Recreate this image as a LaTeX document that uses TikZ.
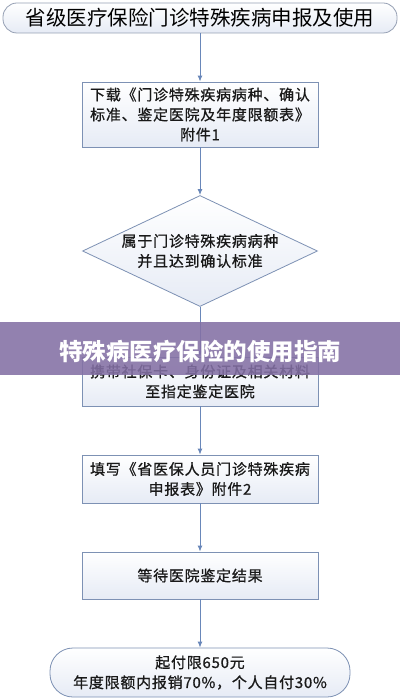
\documentclass[tikz,border=0pt]{standalone}
\usepackage{fontspec}
\setmainfont{Noto Sans CJK SC}
\newfontfamily\boxfont{Noto Sans CJK SC}[LetterSpace=5, FakeBold=0.8]
\usetikzlibrary{shapes.geometric,arrows.meta}
\definecolor{edge}{RGB}{125,145,180}
\definecolor{tedge}{RGB}{150,160,180}
\definecolor{flow}{RGB}{105,135,185}
\definecolor{fillb}{RGB}{230,235,245}
\definecolor{band}{RGB}{132,112,165}
\definecolor{ink}{RGB}{25,25,25}
\tikzset{
  stepbox/.style={draw=edge, line width=0.8pt, top color=white, bottom color=fillb,
    minimum width=236pt, align=center, inner sep=0pt, text=ink,
    font=\boxfont\fontsize{15}{20}\selectfont},
  term/.style={draw=tedge, line width=0.8pt, top color=white, bottom color=fillb,
    align=center, inner sep=0pt},
  flowline/.style={draw=flow, line width=1pt, -{Latex[length=6pt,width=5pt]}},
  txt/.style={align=center, inner sep=0pt, text=ink, font=\boxfont\fontsize{15}{20}\selectfont}
}
\begin{document}
\begin{tikzpicture}[x=1pt,y=-1pt]
\useasboundingbox (0,0) rectangle (400,700);
\fill[white] (0,0) rectangle (400,700);
\node[term, rounded corners=14pt, minimum width=394pt, minimum height=30pt,
  font=\fontsize{20.5}{24}\selectfont] (t) at (200,18) {省级医疗保险门诊特殊疾病申报及使用};
\node[stepbox, minimum height=65pt] (b1) at (200,114.5)
  {下载《门诊特殊疾病病种、确认\\标准、鉴定医院及年度限额表》\\附件1};
\node[diamond, draw=edge, line width=0.8pt, top color=white, bottom color=fillb,
  minimum width=235pt, minimum height=111pt, inner sep=0pt, aspect=2.1] (d) at (200,251) {};
\node[txt] (dt) at (d.center) {属于门诊特殊疾病病种\\并且达到确认标准};
\node[stepbox, minimum height=49pt] (b3) at (200,381.5)
  {携带社保卡、身份证及相关材料\\至指定鉴定医院};
\node[stepbox, minimum height=48pt] (b4) at (200,479)
  {填写《省医保人员门诊特殊疾病\\申报表》附件2};
\node[stepbox, minimum height=47pt] (b5) at (200,575.5) {等待医院鉴定结果};
\node[term, draw=edge, rounded corners=23pt, minimum width=300pt, minimum height=49pt,
  text=ink, font=\boxfont\fontsize{15}{20}\selectfont] (f) at (200,672.5)
  {起付限650元\\年度限额内报销70\%，个人自付30\%};
\draw[flowline] (t.south) -- (b1.north);
\draw[flowline] (b1.south) -- (d.north);
\draw[flowline] (d.south) -- (b3.north);
\draw[flowline] (b3.south) -- (b4.north);
\draw[flowline] (b4.south) -- (b5.north);
\draw[flowline] (b5.south) -- (f.north);
\fill[band, opacity=0.88] (0,322) rectangle (400,375);
\node[text=white, inner sep=0pt, font=\fontsize{23.5}{26}\selectfont\bfseries] (banner) at (200,351)
  {特殊病医疗保险的使用指南};
\end{tikzpicture}
\end{document}
